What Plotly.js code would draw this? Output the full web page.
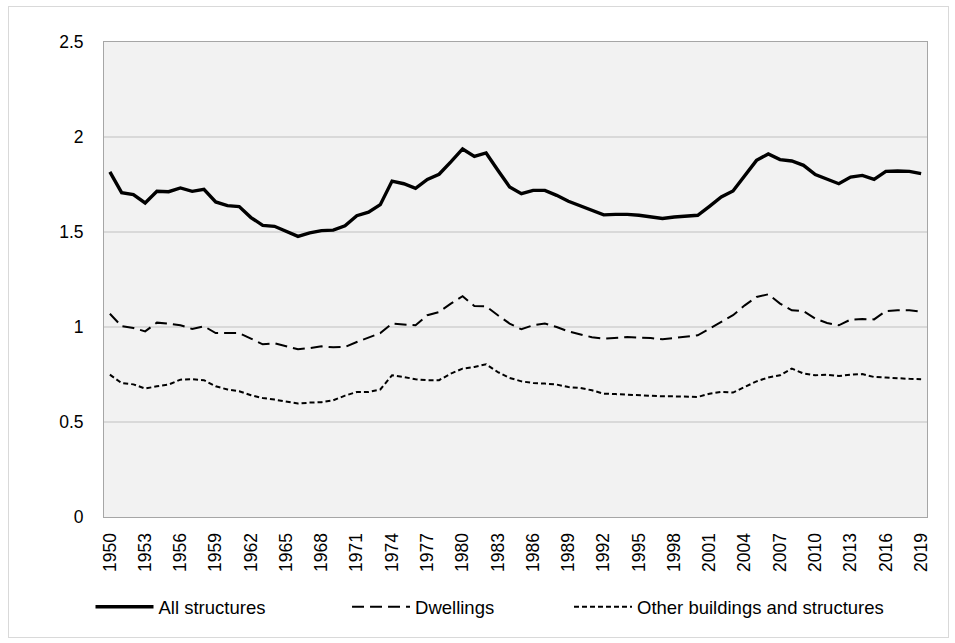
<!DOCTYPE html>
<html>
<head>
<meta charset="utf-8">
<script src="https://cdn.plot.ly/plotly-3.0.1.min.js"></script>
<style>
  html, body { margin: 0; padding: 0; background: #ffffff; }
  #wrap { position: relative; width: 955px; height: 643px; }
  #chart { width: 955px; height: 643px; }
  #frame { position: absolute; left: 8px; top: 6px; width: 939px; height: 630px; border: 1px solid #d9d9d9; pointer-events: none; }
</style>
</head>
<body>
<div id="wrap">
  <div id="chart"></div>
  <div id="frame"></div>
</div>
<script>
const years = [];
for (let y = 1950; y <= 2019; y++) years.push(y);

const allStructures = [
  1.816, 1.707, 1.697, 1.653, 1.714, 1.712, 1.732, 1.714, 1.725, 1.658,
  1.639, 1.634, 1.576, 1.535, 1.530, 1.504, 1.477, 1.495, 1.507, 1.510,
  1.533, 1.586, 1.604, 1.644, 1.768, 1.754, 1.730, 1.777, 1.804, 1.869,
  1.937, 1.898, 1.916, 1.825, 1.737, 1.702, 1.719, 1.719, 1.693, 1.662,
  1.637, 1.614, 1.590, 1.593, 1.593, 1.588, 1.579, 1.571, 1.579, 1.583,
  1.588, 1.635, 1.684, 1.716, 1.793, 1.877, 1.911, 1.881, 1.874, 1.851,
  1.802, 1.777, 1.754, 1.789, 1.798, 1.777, 1.819, 1.821, 1.819, 1.807
];

const dwellings = [
  1.070, 1.004, 0.995, 0.977, 1.023, 1.018, 1.009, 0.990, 1.004, 0.968,
  0.968, 0.968, 0.939, 0.909, 0.914, 0.898, 0.883, 0.889, 0.898, 0.893,
  0.895, 0.921, 0.944, 0.968, 1.018, 1.012, 1.009, 1.062, 1.079, 1.123,
  1.162, 1.111, 1.109, 1.062, 1.018, 0.988, 1.009, 1.018, 1.000, 0.977,
  0.960, 0.946, 0.939, 0.942, 0.947, 0.944, 0.942, 0.935, 0.942, 0.951,
  0.956, 0.991, 1.026, 1.062, 1.114, 1.158, 1.172, 1.123, 1.088, 1.083,
  1.044, 1.021, 1.009, 1.039, 1.042, 1.040, 1.084, 1.088, 1.088, 1.081
];

const otherBuildings = [
  0.749, 0.705, 0.698, 0.676, 0.688, 0.697, 0.723, 0.725, 0.720, 0.688,
  0.671, 0.662, 0.641, 0.626, 0.618, 0.609, 0.597, 0.602, 0.604, 0.614,
  0.639, 0.658, 0.658, 0.671, 0.746, 0.737, 0.725, 0.720, 0.720, 0.755,
  0.781, 0.790, 0.804, 0.763, 0.732, 0.714, 0.705, 0.702, 0.697, 0.684,
  0.679, 0.667, 0.649, 0.647, 0.644, 0.641, 0.635, 0.635, 0.635, 0.632,
  0.632, 0.649, 0.658, 0.655, 0.684, 0.714, 0.734, 0.746, 0.781, 0.755,
  0.746, 0.749, 0.742, 0.749, 0.752, 0.737, 0.734, 0.729, 0.727, 0.725
];

const seriesNames = ["All structures", "Dwellings", "Other buildings and structures"];
const xTickVals = years.filter(y => (y - 1950) % 3 === 0);
const xTickText = xTickVals.map(String);
const yTickVals = [0, 0.5, 1, 1.5, 2, 2.5];
const yTickText = ["0", "0.5", "1", "1.5", "2", "2.5"];

const FONT = "Liberation Sans, Arial, sans-serif";

const traces = [
  { x: years, y: allStructures, name: seriesNames[0], type: "scatter", mode: "lines",
    line: { color: "#000000", width: 3.4 }, legend: "legend" },
  { x: years, y: dwellings, name: seriesNames[1], type: "scatter", mode: "lines",
    line: { color: "#000000", width: 2, dash: "12px,6px" }, legend: "legend2" },
  { x: years, y: otherBuildings, name: seriesNames[2], type: "scatter", mode: "lines",
    line: { color: "#000000", width: 2, dash: "5px,3px" }, legend: "legend3" }
];

const legendBase = {
  orientation: "h", xref: "paper", yref: "paper", yanchor: "middle", xanchor: "left",
  y: -0.19, bgcolor: "rgba(0,0,0,0)", borderwidth: 0, itemwidth: 58,
  font: { family: FONT, size: 18.5, color: "#000000" }
};

const layout = {
  width: 955, height: 643,
  margin: { l: 104, r: 28, t: 42, b: 126 },
  paper_bgcolor: "#ffffff",
  plot_bgcolor: "#f2f2f2",
  font: { family: FONT, size: 16, color: "#000000" },
  showlegend: true,
  legend: Object.assign({}, legendBase, { x: -0.0164 }),
  legend2: Object.assign({}, legendBase, { x: 0.2953 }),
  legend3: Object.assign({}, legendBase, { x: 0.565 }),
  xaxis: {
    range: [1949.5, 2019.5],
    tickmode: "array", tickvals: xTickVals, ticktext: xTickText,
    tickangle: -90,
    tickfont: { family: FONT, size: 17.5, color: "#000000" },
    showgrid: false, zeroline: false,
    showline: true, linecolor: "#a6a6a6", linewidth: 1, mirror: true,
    ticks: "", ticklabelstandoff: 8
  },
  yaxis: {
    range: [0, 2.5],
    tickmode: "array", tickvals: yTickVals, ticktext: yTickText,
    tickfont: { family: FONT, size: 17.5, color: "#000000" },
    showgrid: true, gridcolor: "#d9d9d9", gridwidth: 1.3,
    zeroline: false,
    showline: true, linecolor: "#a6a6a6", linewidth: 1, mirror: true,
    ticks: "", ticklabelstandoff: 16
  }
};

Plotly.newPlot("chart", traces, layout, { displayModeBar: false, staticPlot: true });
</script>
</body>
</html>
